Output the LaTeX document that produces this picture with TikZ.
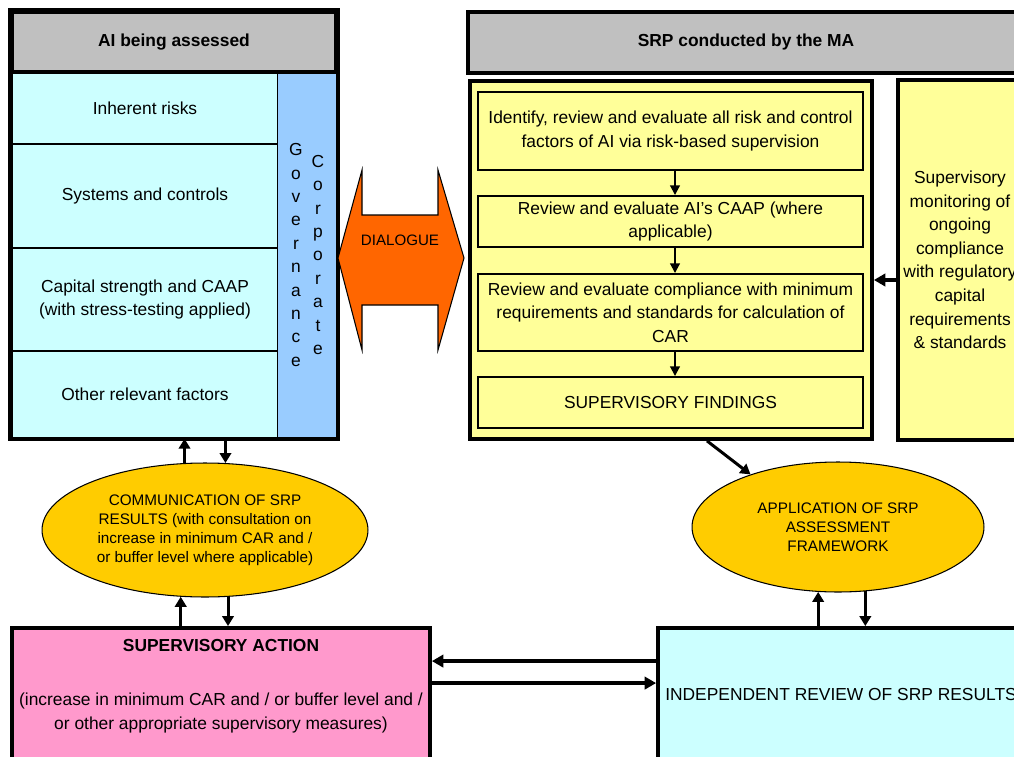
\documentclass[tikz,border=0pt]{standalone}
\usepackage{fontspec}
\setmainfont{Liberation Sans}
\usetikzlibrary{arrows.meta,shapes.geometric,positioning}
\definecolor{hdrgray}{HTML}{C0C0C0}
\definecolor{cyanbg}{HTML}{CCFFFF}
\definecolor{govblue}{HTML}{99CCFF}
\definecolor{dlgorange}{HTML}{FF6600}
\definecolor{srpyellow}{HTML}{FFFF99}
\definecolor{ovalgold}{HTML}{FFCC00}
\definecolor{actpink}{HTML}{FF99CC}
\tikzset{
  frm/.style={draw,line width=2.2pt,inner sep=0pt},
  row/.style={draw,line width=0.8pt,fill=cyanbg,minimum width=5.32cm,inner sep=0pt,align=center},
  stp/.style={draw,line width=1.1pt,fill=srpyellow,minimum width=7.7cm,inner sep=0pt,align=center},
  oval/.style={ellipse,draw,line width=0.6pt,fill=ovalgold,inner sep=0pt,align=center,font=\fontsize{8.7}{10.8}\selectfont},
  arr/.style={-{Triangle[length=5.7pt,width=6.5pt]},line width=1.7pt},
  sarr/.style={-{Triangle[length=5.5pt,width=5.5pt]},line width=1.1pt},
  barr/.style={-{Triangle[length=6.5pt,width=7pt]},line width=2.2pt}
}
\begin{document}
\begin{tikzpicture}[x=0.02cm,y=-0.02cm,font=\fontsize{9.9}{13.4}\selectfont]
\useasboundingbox (0,0) rectangle (1014,757);
\clip (0,0) rectangle (1014,757);
\fill[white] (0,0) rectangle (1014,757);

% AI side
\node[row,minimum height=1.44cm] (rowA) at (145,108) {\raisebox{-3pt}{Inherent risks}};
\node[row,minimum height=2.08cm] (rowB) at (145,196) {Systems and controls};
\node[row,minimum height=2.06cm] (rowC) at (145,299.5) {Capital strength and CAAP\\(with stress-testing applied)};
\node[row,minimum height=1.74cm] (rowD) at (145,394.5) {Other relevant factors};
\node[fill=govblue,minimum width=1.16cm,minimum height=7.32cm,inner sep=0pt] (govStrip) at (307,255) {};
\node[align=center,inner sep=0pt,font=\fontsize{9.9}{13.3}\selectfont] (govA) at (296,255) {G\\o\\v\\e\\r\\n\\a\\n\\c\\e};
\node[align=center,inner sep=0pt,font=\fontsize{9.9}{13.3}\selectfont] (govB) at (318,255) {C\\o\\r\\p\\o\\r\\a\\t\\e};
\node[frm,fill=hdrgray,minimum width=6.48cm,minimum height=1.2cm,font=\bfseries\fontsize{9.9}{12}\selectfont] (hdrL) at (174,42) {AI being assessed};
\draw[line width=2.2pt] (hdrL.north west) rectangle (rowD.south -| hdrL.east);

% dialogue
\draw[fill=dlgorange,line width=0.6pt] (338,258) -- (362,170) -- (362,215) -- (438,215) -- (438,170) -- (464,258)
  -- (438,350) -- (438,305) -- (362,305) -- (362,350) -- cycle;
\node[inner sep=0pt,font=\fontsize{8.6}{10}\selectfont] (dlgTxt) at (400,240) {DIALOGUE};

% SRP side
\node[frm,fill=hdrgray,minimum width=11.12cm,minimum height=1.22cm,font=\bfseries\fontsize{9.9}{12}\selectfont] (hdrR) at (746,42.5) {SRP conducted by the MA};
\node[frm,fill=srpyellow,minimum width=8.04cm,minimum height=7.16cm] (srpBox) at (671,260) {};
\node[stp,minimum height=1.56cm] (stpA) at (670.5,131) {Identify, review and evaluate all risk and control\\factors of AI via risk-based supervision};
\node[stp,minimum height=1.02cm] (stpB) at (670.5,221.5) {Review and evaluate AI's CAAP (where\\applicable)};
\node[stp,minimum height=1.54cm] (stpC) at (670.5,312.5) {Review and evaluate compliance with minimum\\requirements and standards for calculation of\\CAR};
\node[stp,minimum height=1.02cm] (stpD) at (670.5,402.5) {SUPERVISORY FINDINGS};
\foreach \a/\b in {stpA/stpB,stpB/stpC,stpC/stpD}
  \draw[sarr] ([xshift=0.09cm]\a.south) -- ([xshift=0.09cm]\b.north);
\node[frm,fill=srpyellow,minimum width=2.48cm,minimum height=7.2cm,align=center] (monBox) at (960,260)
  {Supervisory\\monitoring of\\ongoing\\compliance\\with regulatory\\capital\\requirements\\\& standards};
\draw[barr] ([yshift=-0.4cm]monBox.west) -- ([yshift=-0.4cm]srpBox.east);

% ovals
\node[oval,minimum width=6.52cm,minimum height=2.68cm] (ellL) at (205,530)
  {COMMUNICATION OF SRP\\RESULTS (with consultation on\\increase in minimum CAR and /\\or buffer level where applicable)};
\node[oval,minimum width=5.84cm,minimum height=2.6cm] (ellR) at (838,527)
  {APPLICATION OF SRP\\ASSESSMENT\\FRAMEWORK};

% bottom boxes
\node[frm,fill=actpink,minimum width=8.36cm,minimum height=2.68cm] (actBox) at (221,695) {};
\node[align=center,inner sep=0pt,below=0.26cm of actBox.north] (actTxt)
  {\textbf{SUPERVISORY ACTION}\\[17.5pt](increase in minimum CAR and / or buffer level and /\\or other appropriate supervisory measures)};
\node[frm,fill=cyanbg,minimum width=7.32cm,minimum height=2.68cm] (revBox) at (841,695) {INDEPENDENT REVIEW OF SRP RESULTS};

% connectors
\draw[arr] (ellL.107) -- (ellL.107 |- rowD.south);
\draw[arr] (ellL.73 |- rowD.south) -- (ellL.73);
\draw[arr] (ellL.250 |- actBox.north) -- (ellL.250);
\draw[arr] (ellL.289) -- (ellL.289 |- actBox.north);
\draw[arr] ([xshift=0.72cm]srpBox.south) -- (ellR.149);
\draw[arr] (ellR.253 |- revBox.north) -- (ellR.253);
\draw[arr] (ellR.293) -- (ellR.293 |- revBox.north);
\draw[barr] ([yshift=-0.7cm]revBox.north west) -- ([yshift=-0.7cm]actBox.north east);
\draw[barr] ([yshift=-1.14cm]actBox.north east) -- ([yshift=-1.14cm]revBox.north west);
\end{tikzpicture}
\end{document}
